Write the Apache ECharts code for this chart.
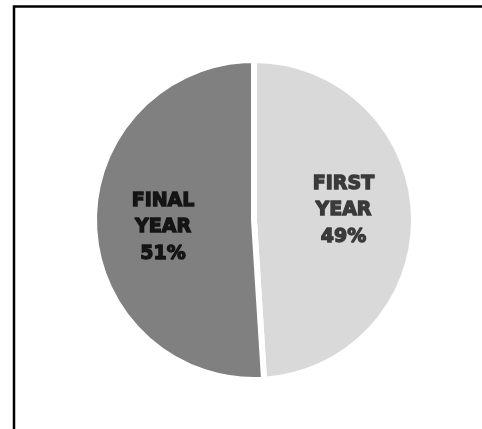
<!DOCTYPE html>
<html>
<head>
<meta charset="utf-8">
<script src="https://cdn.jsdelivr.net/npm/echarts@6/dist/echarts.min.js"></script>
<style>
  html, body { margin: 0; padding: 0; background: #fff; }
  #chart { width: 482px; height: 429px; }
</style>
</head>
<body>
<div id="chart"></div>
<script>
// slice data, clockwise from 12 o'clock
const categories = ['FIRST\nYEAR', 'FINAL\nYEAR']
const shares = [49, 51]
const sliceColors = ['#d9d9d9', '#808080']
const labelColors = ['#3a3a3a', '#141414']
// small nudges so labels sit where the original placed them
const labelShift = [[6.5, -7], [-8, 4.5]]

const chart = echarts.init(document.getElementById('chart'))

const option = {
  animation: false,
  graphic: [
    {
      type: 'rect',
      shape: { x: 14, y: 6.5, width: 700, height: 700 },
      style: { fill: 'none', stroke: '#000', lineWidth: 2.5 }
    }
  ],
  series: [
    {
      type: 'pie',
      center: [254, 220],
      radius: [0, 160],
      startAngle: 90,
      clockwise: true,
      data: categories.map((name, i) => ({
        name: name,
        value: shares[i],
        itemStyle: { color: sliceColors[i] },
        label: { color: labelColors[i], textBorderColor: labelColors[i] }
      })),
      itemStyle: { borderColor: '#fff', borderWidth: 6 },
      label: {
        show: true,
        position: 'inside',
        formatter: (p) => p.name + '\n' + p.value + '%',
        fontFamily: 'DejaVu Sans',
        fontWeight: 'bold',
        fontSize: 19,
        lineHeight: 26.5,
        textBorderWidth: 1.3,
        align: 'center'
      },
      labelLayout: (params) => ({
        dx: labelShift[params.dataIndex][0],
        dy: labelShift[params.dataIndex][1]
      }),
      emphasis: { disabled: true }
    }
  ]
}

chart.setOption(option)
</script>
</body>
</html>
